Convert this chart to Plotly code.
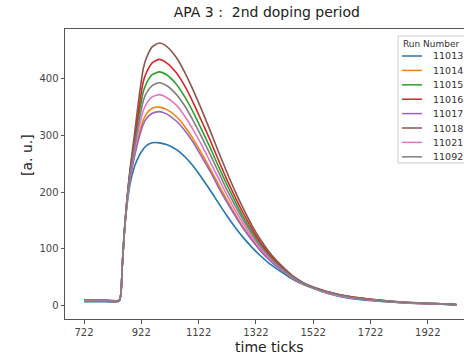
import plotly.graph_objects as go

# time ticks at which values were read
time_ticks = [722, 800, 845, 855, 862, 871, 883, 898, 912, 929, 940, 960, 985, 1010,
              1045, 1075, 1103, 1132, 1162, 1190, 1220, 1250, 1278, 1310, 1336, 1365,
              1395, 1425, 1452, 1480, 1510, 1569, 1650, 1750, 1850, 1950, 2022]

run_11013 = [7, 7, 8, 66, 122, 172, 215, 245, 262, 276, 282, 287, 287, 284,
             275, 262, 246, 226, 204, 182, 159, 138, 120, 102, 89, 76,
             65, 55, 46, 39, 33, 22, 13, 8, 5, 3, 1.5]
run_11014 = [8, 8, 9, 66, 123, 176, 225, 265, 297, 327, 338, 348, 350, 346,
             333, 315, 294, 269, 242, 215, 187, 161, 138, 116, 99, 84,
             70, 58, 48, 40, 34, 23, 14, 9, 5, 3, 1.7]
run_11015 = [9, 9, 9, 66, 124, 180, 234, 285, 331, 377, 392, 407, 412, 407,
             390, 367, 341, 311, 279, 247, 214, 183, 156, 129, 110, 91,
             75, 61, 50, 42, 34, 24, 15, 9.4, 5.7, 3.7, 1.9]
run_11016 = [10, 10, 10, 66, 125, 181, 238, 292, 343, 395, 411, 428, 434, 428,
             410, 386, 358, 326, 292, 258, 223, 191, 163, 134, 113, 93.5,
             77, 62.5, 51, 42, 35, 25, 16, 10, 5.8, 3.8, 1.9]
run_11017 = [8, 8, 9, 66, 123, 175, 223, 262, 292, 320, 330, 339, 342, 338,
             325, 308, 288, 263, 237, 210, 183, 158, 136, 114, 98, 82.5,
             69, 58, 48, 40, 34, 23, 14, 9, 5, 3, 1.7]
run_11018 = [9, 9, 9, 66, 125, 183, 242, 301, 359, 418, 437, 456, 463, 457,
             437, 410, 380, 346, 309, 273, 236, 201, 171, 140, 118, 97,
             79, 64, 52, 43, 35, 25, 16, 10, 6, 4, 2]
run_11021 = [9, 9, 9, 66, 123, 177, 228, 272, 309, 344, 356, 368, 372, 367,
             353, 333, 310, 284, 254, 226, 196, 168, 144.5, 120, 103, 86,
             72, 59, 49, 41, 34, 23, 14, 9, 5.5, 3.5, 1.7]
run_11092 = [8, 8, 9, 66, 124, 179, 231, 279, 320, 361, 375, 388, 393, 388,
             372, 351, 326, 298, 267, 237, 205, 176, 151, 125, 106, 89,
             73, 60, 50, 41, 34, 24, 15, 9, 5.6, 3.6, 1.8]

run_numbers = ["11013", "11014", "11015", "11016", "11017", "11018", "11021", "11092"]
series = [run_11013, run_11014, run_11015, run_11016, run_11017, run_11018, run_11021, run_11092]
colors = ["#1f77b4", "#ff7f0e", "#2ca02c", "#d62728", "#9467bd", "#8c564b", "#e377c2", "#7f7f7f"]

x_tickvals = [722, 922, 1122, 1322, 1522, 1722, 1922]
y_tickvals = [0, 100, 200, 300, 400]

# plot-area geometry in pixels
L, R, T, B = 65, 464, 29, 319


def px(x):
    return (x - L) / (R - L)


def py(y):
    return (B - y) / (B - T)


fig = go.Figure()
for name, ys, c in zip(run_numbers, series, colors):
    fig.add_trace(go.Scatter(x=time_ticks, y=ys, mode="lines", name=name, showlegend=False,
                             line=dict(color=c, width=1.6, shape="spline", smoothing=0.6)))

font_family = "DejaVu Sans"
fig.update_layout(
    width=464, height=355,
    margin=dict(l=L, r=464 - R, t=T, b=355 - B),
    paper_bgcolor="white", plot_bgcolor="white",
    font=dict(family=font_family, color="#333"),
    title=dict(text="APA 3 :\u00a0 2nd doping period", x=0.575, xanchor="center",
               y=1 - 12 / 355, yanchor="middle", yref="container",
               font=dict(size=14, color="#222", family=font_family)),
    showlegend=False,
)
fig.update_xaxes(range=[655.7, 2048.3], tickmode="array", tickvals=x_tickvals,
                 ticktext=[str(v) for v in x_tickvals],
                 showgrid=False, zeroline=False, showline=True, linecolor="#555",
                 linewidth=1, mirror=True, ticks="outside", ticklen=3.5, tickcolor="#555",
                 tickfont=dict(size=10, color="#444"))
fig.update_yaxes(range=[-23.4, 487.6], tickmode="array", tickvals=y_tickvals,
                 showgrid=False, zeroline=False, showline=True, linecolor="#555",
                 linewidth=1, mirror=False, ticks="outside", ticklen=3.5, tickcolor="#555",
                 tickfont=dict(size=10, color="#444"))

fig.add_annotation(text="time ticks", xref="paper", yref="paper", x=px(269),
                   y=py(347), xanchor="center", yanchor="middle",
                   showarrow=False, font=dict(size=14, color="#222", family=font_family))
fig.add_annotation(text="[a. u.]", xref="paper", yref="paper", x=px(27),
                   y=py(155), xanchor="center", yanchor="middle", textangle=-90,
                   showarrow=False, font=dict(size=14, color="#222", family=font_family))

# legend (matplotlib-style box, running into the right edge of the figure)
fig.add_shape(type="rect", xref="paper", yref="paper", x0=px(398), x1=px(490),
              y0=py(163), y1=py(36), line=dict(color="#cccccc", width=1),
              fillcolor="rgba(255,255,255,0.8)", layer="above")
fig.add_annotation(text="Run Number", xref="paper", yref="paper", x=px(401), y=py(44),
                   xanchor="left", yanchor="middle", showarrow=False,
                   font=dict(size=9, color="#333", family=font_family))
for i, (name, c) in enumerate(zip(run_numbers, colors)):
    yy = 56 + i * 14.4
    fig.add_shape(type="line", xref="paper", yref="paper", x0=px(402), x1=px(422),
                  y0=py(yy), y1=py(yy), line=dict(color=c, width=1.5), layer="above")
    fig.add_annotation(text=name, xref="paper", yref="paper", x=px(431), y=py(yy),
                       xanchor="left", yanchor="middle", showarrow=False,
                       font=dict(size=9.5, color="#333", family=font_family))

fig.write_html("out.html")
